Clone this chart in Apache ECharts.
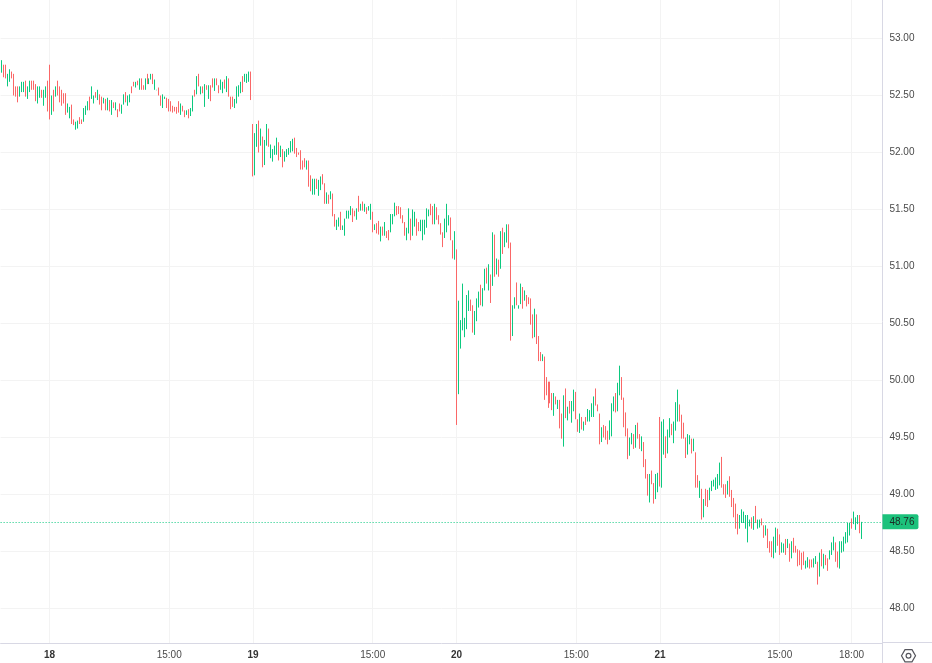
<!DOCTYPE html>
<html>
<head>
<meta charset="utf-8">
<style>html,body{margin:0;padding:0;background:#fff}#c{width:932px;height:663px}</style>
<script src="https://cdn.jsdelivr.net/npm/echarts@6/dist/echarts.min.js"></script>
</head>
<body>
<div id="c"></div>
<script>
const highs = [
52.81,52.77,52.77,52.69,52.73,52.71,52.69,52.58,52.58,52.58,52.62,52.62,52.63,52.58,52.63,52.63,52.63,52.60,52.58,52.58,52.55,52.55,52.58,52.63,
52.77,52.50,52.55,52.58,52.63,52.58,52.55,52.52,52.52,52.43,52.40,52.42,52.29,52.27,52.28,52.31,52.29,52.39,52.41,52.45,52.49,52.58,52.50,52.53,52.55,52.51,52.49,52.48,52.47,52.48,52.46,52.46,52.44,52.44,52.38,52.43,
52.42,52.51,52.53,52.50,52.51,52.58,52.62,52.62,52.63,52.65,52.65,52.59,52.65,52.69,52.65,52.69,52.69,52.64,52.55,52.57,52.50,52.51,52.49,52.48,52.47,52.45,52.41,52.40,52.40,52.45,52.43,52.41,52.37,52.37,52.38,52.39,52.50,52.55,52.67,52.69,52.58,52.58,52.60,52.59,52.59,52.59,52.65,52.65,52.65,52.59,52.64,52.62,52.64,52.67,52.65,52.49,52.49,52.47,52.58,52.59,52.62,52.67,52.69,52.69,52.71,52.71,
52.25,52.17,52.25,52.28,52.21,52.14,52.11,52.25,52.21,52.07,52.03,52.06,52.13,52.09,52.06,52.03,52.01,52.03,52.04,52.10,52.12,52.13,52.04,52.00,52.02,51.93,51.95,51.93,51.93,51.80,51.77,51.77,51.77,51.76,51.79,51.81,51.73,51.65,51.63,51.66,51.64,51.46,51.41,51.43,51.48,51.36,51.42,51.49,51.49,51.53,51.51,51.49,51.51,51.62,51.55,51.57,51.55,51.52,51.53,51.55,51.48,51.37,51.38,51.40,51.35,51.35,51.39,51.31,51.32,51.46,51.46,51.56,51.53,51.53,51.52,51.45,51.39,51.34,51.51,51.42,51.50,51.48,51.42,51.39,51.41,51.41,51.41,51.51,51.50,51.55,51.53,51.55,51.52,51.45,51.38,51.30,51.42,51.55,51.45,51.43,51.23,51.31,
51.15,50.70,50.53,50.85,50.55,50.75,50.79,50.71,50.66,50.61,50.72,50.78,50.84,50.81,50.98,50.99,51.02,50.93,51.30,51.28,51.07,51.06,51.31,51.34,51.30,51.37,51.37,51.21,50.66,50.73,50.86,50.66,50.85,50.82,50.79,50.75,50.73,50.72,50.58,50.63,50.58,50.39,50.25,50.23,50.21,50.03,49.99,49.99,49.89,49.89,49.86,49.83,49.83,49.71,49.87,49.93,49.77,49.82,49.82,49.92,49.90,49.66,49.71,49.68,49.64,49.68,49.75,49.74,49.80,49.86,49.93,49.79,49.71,49.59,49.61,49.60,49.56,49.65,49.80,49.86,49.89,49.98,50.13,50.03,49.85,49.72,49.58,49.50,49.54,49.53,49.61,49.63,49.53,49.51,49.46,49.31,49.18,49.18,49.21,49.10,49.18,49.19,
49.68,49.64,49.66,49.51,49.57,49.67,49.62,49.64,49.81,49.92,49.79,49.70,49.63,49.50,49.53,49.52,49.49,49.49,49.37,49.17,49.12,49.05,48.96,49.05,49.04,49.06,49.12,49.13,49.15,49.18,49.28,49.33,49.09,49.09,49.12,49.16,49.04,48.97,48.92,48.83,48.82,48.87,48.85,48.82,48.82,48.78,48.80,48.81,48.90,48.78,48.78,48.79,48.73,48.73,48.70,48.59,48.59,48.63,48.71,48.70,48.65,48.58,48.57,48.61,48.61,48.57,48.59,48.62,48.55,48.52,48.51,48.49,48.50,48.42,48.45,48.43,48.43,48.44,48.46,48.41,48.49,48.52,48.48,48.47,48.44,48.51,48.58,48.63,48.58,48.50,48.59,48.59,48.63,48.67,48.75,48.75,48.79,48.85,48.80,48.82,48.82,48.76
];
const lows = [
52.70,52.66,52.65,52.58,52.62,52.65,52.50,52.49,52.44,52.49,52.53,52.53,52.49,52.47,52.53,52.55,52.55,52.45,52.43,52.48,52.48,52.41,52.48,52.36,
52.29,52.33,52.36,52.49,52.50,52.44,52.41,52.43,52.33,52.35,52.30,52.25,52.24,52.20,52.21,52.25,52.25,52.27,52.33,52.37,52.37,52.47,52.43,52.48,52.46,52.42,52.37,52.43,52.37,52.37,52.36,52.33,52.39,52.37,52.31,52.36,
52.34,52.42,52.44,52.41,52.44,52.52,52.58,52.57,52.59,52.55,52.55,52.55,52.55,52.60,52.60,52.64,52.60,52.55,52.546,52.50,52.41,52.39,52.47,52.39,52.36,52.36,52.35,52.36,52.34,52.35,52.33,52.36,52.31,52.33,52.30,52.32,52.36,52.49,52.51,52.58,52.51,52.52,52.40,52.55,52.47,52.45,52.57,52.54,52.59,52.52,52.55,52.52,52.56,52.53,52.49,52.38,52.40,52.39,52.43,52.49,52.52,52.53,52.62,52.61,52.62,52.46,
51.79,51.80,52.05,52.00,52.06,51.87,51.89,52.06,52.05,51.95,51.92,51.98,51.98,51.93,51.96,51.87,51.92,51.96,51.98,52.00,52.01,51.99,51.96,51.98,51.85,51.85,51.87,51.85,51.70,51.66,51.63,51.63,51.68,51.62,51.67,51.72,51.55,51.55,51.55,51.59,51.44,51.35,51.32,51.35,51.32,51.32,51.27,51.42,51.42,51.45,51.39,51.44,51.41,51.48,51.49,51.49,51.48,51.46,51.49,51.41,51.30,51.32,51.29,51.28,51.22,51.27,51.27,51.25,51.23,51.30,51.37,51.44,51.45,51.46,51.42,51.38,51.27,51.23,51.29,51.23,51.27,51.35,51.27,51.31,51.31,51.23,51.28,51.34,51.44,51.45,51.37,51.37,51.41,51.37,51.28,51.17,51.25,51.30,51.36,51.23,51.07,51.06,
49.61,49.88,50.28,50.44,50.38,50.45,50.61,50.61,50.42,50.40,50.52,50.64,50.66,50.65,50.79,50.85,50.79,50.68,50.83,50.91,50.93,50.91,50.98,51.11,51.17,51.21,51.16,50.35,50.39,50.63,50.66,50.63,50.67,50.63,50.70,50.65,50.67,50.49,50.37,50.38,50.32,50.17,50.17,50.17,49.83,49.87,49.76,49.80,49.74,49.69,49.79,49.75,49.58,49.49,49.42,49.67,49.65,49.71,49.63,49.73,49.66,49.55,49.54,49.57,49.56,49.61,49.64,49.64,49.68,49.68,49.78,49.73,49.44,49.46,49.50,49.48,49.44,49.48,49.51,49.73,49.72,49.73,49.87,49.83,49.59,49.51,49.31,49.34,49.44,49.40,49.41,49.49,49.40,49.38,49.24,49.14,48.99,48.93,49.09,48.92,48.96,49.02,
49.07,49.06,49.35,49.32,49.36,49.50,49.52,49.45,49.56,49.64,49.64,49.49,49.49,49.32,49.35,49.44,49.36,49.38,49.06,49.06,48.97,48.78,48.80,48.90,48.89,48.95,49.03,49.07,49.04,49.05,49.08,49.06,49.00,48.97,49.00,48.98,48.89,48.80,48.70,48.65,48.70,48.75,48.75,48.70,48.58,48.72,48.70,48.69,48.75,48.70,48.71,48.73,48.62,48.64,48.53,48.49,48.45,48.44,48.49,48.55,48.47,48.49,48.49,48.47,48.53,48.41,48.44,48.49,48.49,48.37,48.38,48.34,48.38,48.35,48.36,48.35,48.36,48.36,48.39,48.21,48.28,48.37,48.35,48.38,48.33,48.43,48.47,48.51,48.41,48.36,48.35,48.49,48.50,48.57,48.58,48.64,48.70,48.74,48.69,48.74,48.66,48.61
];
const barUp = [
1,0,0,1,1,0,0,0,0,1,1,1,0,1,1,0,0,0,1,1,0,1,1,0,
0,1,0,1,0,0,0,0,0,1,1,0,0,1,1,0,0,1,1,1,0,1,1,0,1,0,0,1,0,1,0,1,0,1,0,0,
1,1,0,1,1,0,0,1,0,1,0,0,1,0,1,1,0,1,1,0,0,1,1,0,0,0,0,0,0,0,1,0,0,1,0,1,1,0,1,0,1,0,1,0,1,0,0,1,0,0,1,1,0,1,0,0,0,1,1,1,1,0,1,1,1,0,
0,1,1,0,1,0,1,1,0,1,1,1,1,0,1,0,1,1,1,1,1,0,0,0,0,0,0,1,0,0,1,1,0,1,1,0,0,1,0,1,0,0,1,1,0,1,1,1,1,1,0,0,1,0,1,0,1,0,1,1,0,1,0,0,1,0,1,0,0,1,1,1,0,0,0,0,0,1,1,0,1,1,0,0,1,1,1,1,1,0,0,1,0,0,0,0,1,1,1,0,0,1,
0,1,1,1,1,1,1,0,0,1,1,1,0,1,1,0,1,0,1,0,1,0,1,0,1,1,0,0,1,1,0,1,1,0,1,0,0,0,0,1,0,0,0,1,0,0,0,0,0,1,0,1,0,0,1,0,1,0,1,1,0,0,1,0,1,0,1,1,1,1,0,0,0,1,0,0,0,1,1,1,0,1,1,0,0,0,0,1,1,0,1,0,0,1,0,0,0,1,0,0,1,1,
0,1,1,0,1,1,0,1,1,1,0,0,0,0,1,1,0,1,0,0,1,0,1,0,0,1,1,1,1,1,1,0,0,0,1,0,0,0,0,0,1,1,1,1,1,1,0,1,0,1,1,0,0,1,0,0,0,1,1,0,0,1,1,0,1,0,1,0,0,0,0,0,0,1,1,0,0,1,1,0,1,0,1,0,0,1,1,1,0,0,1,1,1,1,1,1,0,1,1,1,0,1
];
const sessionOpenMinutes = 10 * 60;
const barMinutes = 5;
const barsPerDay = 102;
const dayLabels = {24: "18", 126: "19", 228: "20", 330: "21"};
const tickIndexes = [24, 84, 126, 186, 228, 288, 330, 390, 426];
const lastPrice = 48.755;
const lastPriceLabel = "48.76";
const categoryCount = 442;

const pad = n => String(n).padStart(2, "0");
const categories = [];
for (let i = 0; i < categoryCount; i++) {
  if (dayLabels[i]) { categories.push(dayLabels[i]); continue; }
  const off = ((i - 24) % barsPerDay + barsPerDay) % barsPerDay;
  const m = sessionOpenMinutes + off * barMinutes;
  categories.push(pad(Math.floor(m / 60)) + ":" + pad(m % 60));
}
const ohlc = highs.map((h, i) => barUp[i] ? [lows[i], h, lows[i], h] : [h, lows[i], lows[i], h]);
const isTick = i => tickIndexes.includes(i);

const gridColor = "#f3f3f3", axisColor = "#d8d8e4", labelColor = "#4a4a4a";
const font = "'Liberation Sans', Arial, sans-serif";
const chart = echarts.init(document.getElementById("c"), null, {renderer: "canvas"});
chart.setOption({
  animation: false,
  backgroundColor: "#fff",
  textStyle: {fontFamily: font},
  grid: {left: 0.62, top: 0, width: 881.8, height: 643, containLabel: false},
  xAxis: {
    type: "category", data: categories, boundaryGap: true,
    axisLine: {show: true, lineStyle: {color: axisColor}},
    axisTick: {show: false},
    axisLabel: {
      interval: (i) => isTick(i), hideOverlap: false, margin: 7, color: labelColor, fontSize: 10, fontFamily: font,
      formatter: (v) => v.length <= 2 ? "{d|" + v + "}" : v,
      rich: {d: {fontWeight: "bold", color: "#333333", fontSize: 10, fontFamily: font}}
    },
    splitLine: {show: true, interval: (i) => isTick(i), alignWithLabel: true, lineStyle: {color: gridColor}}
  },
  yAxis: {
    type: "value", position: "right", min: 47.6974, max: 53.3377, splitNumber: 11, scale: true,
    axisLine: {show: true, lineStyle: {color: axisColor}},
    axisTick: {show: false},
    axisLabel: {margin: 7, padding: [2, 0, 0, 0], color: labelColor, fontSize: 10, fontFamily: font, showMinLabel: false, showMaxLabel: false,
      formatter: (v) => v.toFixed(2)},
    splitLine: {show: true, showMinLine: false, showMaxLine: false, lineStyle: {color: gridColor}}
  },
  series: [{
    type: "candlestick", data: ohlc, barWidth: 1, clip: false,
    itemStyle: {color: "#0cc97f", color0: "#fa6767", borderColor: "#0cc97f", borderColor0: "#fa6767", borderWidth: 1},
    markLine: {
      silent: true, symbol: "none", animation: false,
      lineStyle: {color: "#0cc97f", type: [1, 2], width: 1},
      label: {
        show: true, position: "end", distance: 0, formatter: () => lastPriceLabel, fontFamily: font,
        backgroundColor: "#1cc27c", color: "#1c2a24", fontSize: 10, lineHeight: 11, padding: [3, 4, 1, 7], borderRadius: [0, 2, 2, 0], align: "left"
      },
      data: [{yAxis: lastPrice}]
    }
  }],
  graphic: [
    {type: "line", silent: true, shape: {x1: 883, y1: 642.5, x2: 932, y2: 642.5}, style: {stroke: axisColor, lineWidth: 1}},
    {type: "line", silent: true, shape: {x1: 882.5, y1: 643, x2: 882.5, y2: 663}, style: {stroke: axisColor, lineWidth: 1}},
    {type: "polygon", silent: true, shape: {points: [[901.5,655.7],[905,649.6],[912,649.6],[915.5,655.7],[912,661.8],[905,661.8]]}, style: {fill: "none", stroke: "#55555c", lineWidth: 1.2}},
    {type: "circle", silent: true, shape: {cx: 908.5, cy: 655.7, r: 2.4}, style: {fill: "none", stroke: "#55555c", lineWidth: 1.2}}
  ]
});
</script>
</body>
</html>
